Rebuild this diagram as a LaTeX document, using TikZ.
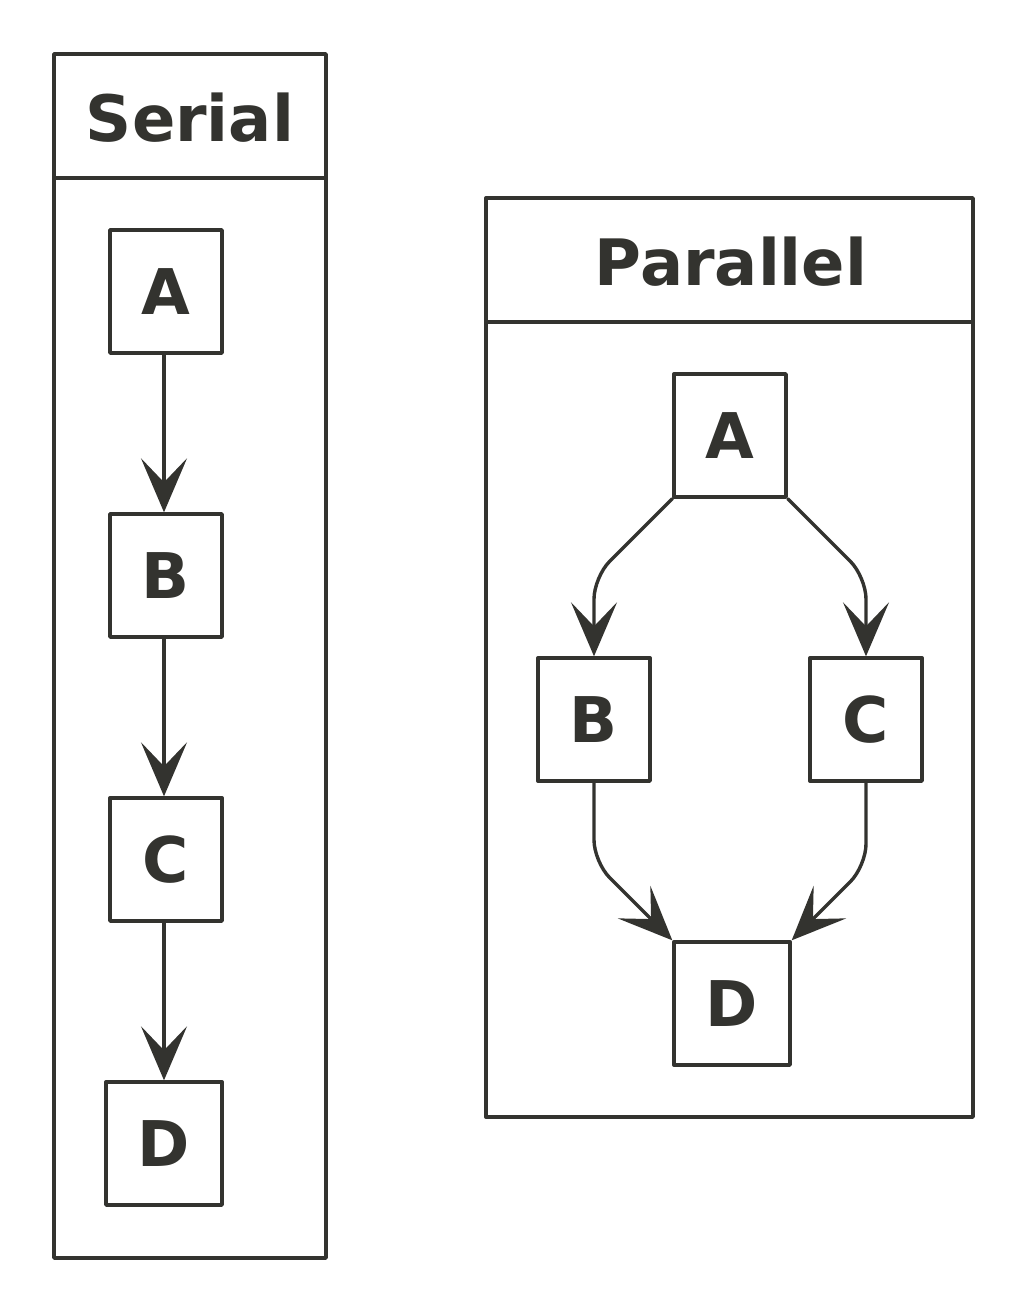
\documentclass[tikz,border=0pt]{standalone}
\usepackage{fontspec}
\setmainfont{DejaVu Sans}
\usetikzlibrary{arrows.meta}
\definecolor{ink}{RGB}{51,51,47}
\tikzset{
  frame/.style={draw=ink,line width=3.4pt},
  task/.style={draw=ink,line width=3.4pt,minimum width=112pt,minimum height=123pt,
    inner sep=0pt,font=\fontsize{63}{63}\selectfont\bfseries,text=ink},
  title/.style={font=\fontsize{64}{64}\selectfont\bfseries,text=ink},
  flow/.style={draw=ink,line width=3.4pt,rounded corners=22pt,
    -{Stealth[length=54pt,width=46pt,inset=24pt]}}
}
\begin{document}
\begin{tikzpicture}[x=1pt,y=-1pt,line cap=round,line join=round]
  \useasboundingbox (0,0) rectangle (1024,1308);

  % serial
  \draw[frame] (54,54) rectangle (326,1258) (54,178) -- (326,178);
  \node[title] (serT) at (190,118) {Serial};
  \node[task] (serA) at (166,291.5) {A};
  \node[task] (serB) at (166,575.5) {B};
  \node[task] (serC) at (166,859.5) {C};
  \node[task,minimum width=116pt] (serD) at (164,1143.5) {D};
  \draw[flow] (serA.south -| serD) -- (serB.north -| serD);
  \draw[flow] (serB.south -| serD) -- (serC.north -| serD);
  \draw[flow] (serC.south -| serD) -- (serD);

  % parallel
  \draw[frame] (486,198) rectangle (973,1117) (486,322) -- (973,322);
  \node[title] (parT) at (731,262) {Parallel};
  \node[task] (parA) at (730,435.5) {A};
  \node[task] (parB) at (594,719.5) {B};
  \node[task] (parC) at (866,719.5) {C};
  \node[task,minimum width=116pt] (parD) at (732,1003.5) {D};
  \draw[flow] (parA.south west) -- (594,577) -- (parB.north);
  \draw[flow] (parA.south east) -- (866,577) -- (parC.north);
  \draw[flow] (parB.south) -- (594,862) -- (parD.north west);
  \draw[flow] (parC.south) -- (866,866) -- (parD.north east);
\end{tikzpicture}
\end{document}
